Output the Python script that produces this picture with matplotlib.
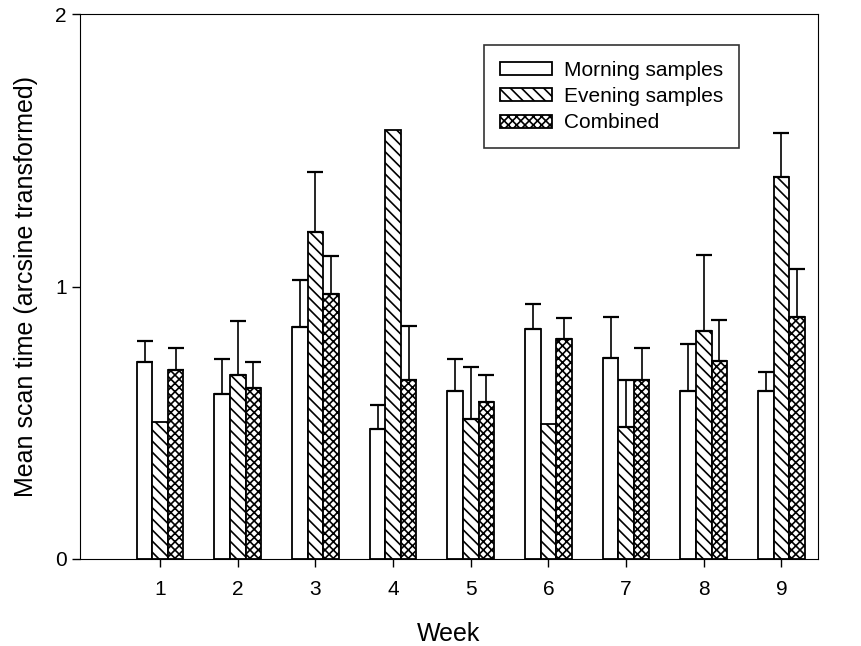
import numpy as np
import matplotlib
matplotlib.use("Agg")
import matplotlib.pyplot as plt

plt.rcParams['font.family'] = ['Liberation Sans', 'DejaVu Sans']
plt.rcParams['hatch.linewidth'] = 1.2

# Data
weeks = [1, 2, 3, 4, 5, 6, 7, 8, 9]
morning = [0.723, 0.605, 0.851, 0.477, 0.617, 0.844, 0.738, 0.617, 0.617]
evening = [0.503, 0.675, 1.200, 1.574, 0.514, 0.495, 0.484, 0.837, 1.402]
combined = [0.694, 0.627, 0.972, 0.657, 0.576, 0.807, 0.657, 0.727, 0.888]

# upper error bars only (0 = none drawn)
morning_err = [0.077, 0.129, 0.173, 0.088, 0.117, 0.092, 0.150, 0.172, 0.069]
evening_err = [0.0, 0.198, 0.220, 0.0, 0.191, 0.0, 0.173, 0.279, 0.161]
combined_err = [0.080, 0.096, 0.140, 0.198, 0.099, 0.077, 0.117, 0.150, 0.176]

labels = ['Morning samples', 'Evening samples', 'Combined']
hatches = ['', '\\\\\\', 'xxxx']

fig = plt.figure(figsize=(8.61, 6.46), dpi=100)
ax = fig.add_axes([0.093, 0.135, 0.857, 0.843])

x = np.array(weeks, dtype=float)
w = 0.2
series = [(morning, morning_err), (evening, evening_err), (combined, combined_err)]

for i, (vals, errs) in enumerate(series):
    xs = x + (i - 1) * w
    ax.bar(xs, vals, width=w, color='white', edgecolor='black',
           linewidth=1.3, hatch=hatches[i], label=labels[i], zorder=2)
    vals = np.array(vals)
    errs = np.array(errs)
    m = errs > 0
    ax.errorbar(xs[m], vals[m], yerr=[np.zeros(m.sum()), errs[m]],
                fmt='none', ecolor='black', elinewidth=1.2, capsize=5.5,
                capthick=1.6, zorder=3)

ax.set_xlim(-0.03, 9.47)
ax.set_ylim(0, 2)
ax.set_xticks(weeks)
ax.set_yticks([0, 1, 2])
ax.tick_params(direction='out', length=6, width=1, labelsize=15)
ax.tick_params(axis='x', pad=9)

ax.set_xlabel('Week', fontsize=18, labelpad=17)
ax.set_ylabel('Mean scan time (arcsine transformed)', fontsize=18, labelpad=12)

leg = ax.legend(loc='upper right', bbox_to_anchor=(0.893, 0.943),
                borderaxespad=0, fontsize=15, frameon=True, fancybox=False,
                edgecolor='black', handlelength=2.5, handleheight=0.6,
                labelspacing=0.35, borderpad=0.75, handletextpad=0.6)
leg.get_frame().set_linewidth(1.2)

plt.savefig('out.png', dpi=100)
